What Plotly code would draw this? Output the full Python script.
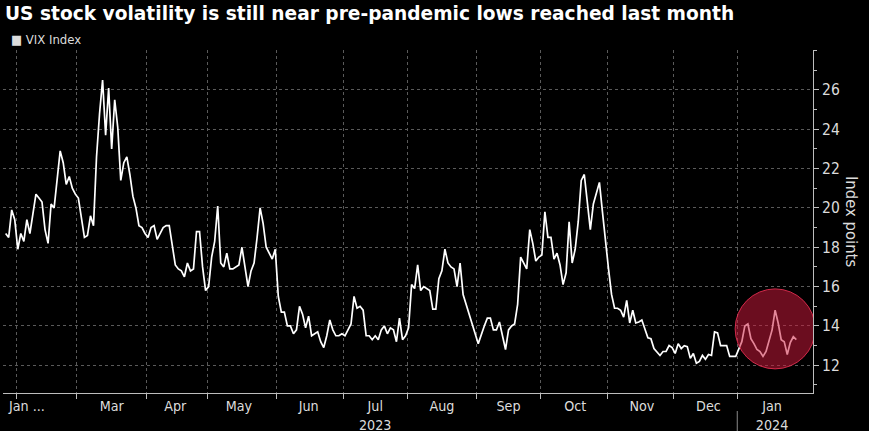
import pandas as pd
import plotly.graph_objects as go

# ---------------- data ----------------
title_text = "US stock volatility is still near pre-pandemic lows reached last month"
series_name = "VIX Index"
y_axis_title = "Index points"

start_date = "2023-01-26"
end_date = "2024-01-26"
market_holidays = ["2023-02-20", "2023-04-07", "2023-05-29", "2023-06-19", "2023-07-04",
                   "2023-09-04", "2023-11-23", "2023-12-25", "2024-01-01", "2024-01-15"]

vix_2023_jan = [18.7, 18.5, 19.9, 19.4]
vix_2023_feb = [17.9, 18.7, 18.3, 19.4, 18.7, 19.6, 20.7, 20.5, 20.3, 18.9, 18.2, 20.2, 20.0,
                22.9, 22.3, 21.2, 21.6, 21.0, 20.7]
vix_2023_mar = [20.5, 19.6, 18.5, 18.6, 19.6, 19.1, 22.6, 24.8, 26.5, 23.7, 26.1, 23.0, 25.5,
                24.1, 21.4, 22.3, 22.6, 21.7, 20.6, 20.0, 19.1, 19.0, 18.7]
vix_2023_apr = [18.5, 19.0, 19.1, 18.4, 19.0, 19.1, 19.1, 18.0, 17.1, 16.9, 16.8, 16.5, 17.2,
                16.8, 16.9, 18.8, 18.8, 17.0, 15.8]
vix_2023_may = [16.0, 17.5, 18.3, 20.1, 17.2, 17.0, 17.7, 16.9, 16.9, 17.0, 17.1, 18.0, 16.9,
                16.0, 16.8, 17.2, 18.5, 20.0, 19.2, 18.0, 17.4, 17.9]
vix_2023_jun = [15.5, 14.7, 14.7, 14.0, 14.0, 13.6, 13.8, 15.0, 14.6, 13.9, 14.5, 13.5, 13.7,
                13.2, 12.9, 13.5, 14.3, 13.8, 13.5, 13.5, 13.6]
vix_2023_jul = [13.5, 14.1, 15.5, 14.9, 15.0, 14.8, 13.5, 13.5, 13.3, 13.5, 13.3, 13.8, 14.0,
                13.6, 13.9, 13.8, 13.2, 14.4, 13.3, 13.5]
vix_2023_aug = [13.9, 16.1, 15.9, 17.1, 15.8, 16.0, 15.9, 15.8, 14.85, 14.85, 16.4, 16.8, 17.9,
                17.2, 17.0, 16.9, 16.0, 17.2, 15.6, 15.1, 14.5, 14.0, 13.55]
vix_2023_sep = [13.1, 14.0, 14.4, 14.4, 13.8, 13.8, 14.2, 13.5, 12.8, 13.8, 14.0, 14.1, 15.1,
                17.5, 17.2, 16.9, 18.9, 18.2, 17.3, 17.5]
vix_2023_oct = [17.6, 19.8, 18.5, 18.5, 17.4, 17.7, 17.1, 16.1, 16.7, 19.3, 17.2, 17.9, 19.3,
                21.4, 21.7, 20.4, 18.9, 20.2, 20.7, 21.3, 19.8, 18.2]
vix_2023_nov = [16.9, 15.6, 14.9, 14.9, 14.8, 14.45, 15.3, 14.15, 14.8, 14.15, 14.2, 14.3, 13.8,
                13.4, 13.35, 12.85, 12.5, 12.7, 12.7, 13.0, 12.9]
vix_2023_dec = [12.6, 13.1, 12.85, 13.0, 12.95, 12.35, 12.6, 12.1, 12.2, 12.5, 12.3, 12.55, 12.5,
                13.7, 13.65, 13.0, 13.0, 12.45, 12.45, 12.45]
vix_2024_jan = [13.2, 14.0, 14.1, 13.35, 13.1, 12.8, 12.7, 12.45, 12.7, 13.8, 14.8, 14.15, 13.3,
                13.2, 12.55, 13.15, 13.45, 13.3]

month_label_dates = ["2023-02-06", "2023-03-16", "2023-04-14", "2023-05-15", "2023-06-15",
                     "2023-07-17", "2023-08-16", "2023-09-15", "2023-10-17", "2023-11-16",
                     "2023-12-18", "2024-01-16"]
month_labels = ["Jan ...", "Mar", "Apr", "May", "Jun", "Jul<br>2023", "Aug", "Sep", "Oct",
                "Nov", "Dec", "Jan<br>2024"]
month_boundaries = ["2023-01-31 12:00", "2023-02-28 12:00", "2023-03-31 12:00",
                    "2023-04-28 12:00", "2023-05-31 12:00", "2023-06-30 12:00",
                    "2023-07-31 12:00", "2023-08-31 12:00", "2023-09-29 12:00",
                    "2023-10-31 12:00", "2023-11-30 12:00", "2023-12-29 12:00"]
year_divider = "2023-12-29 12:00"
y_ticks = [12, 14, 16, 18, 20, 22, 24, 26]
highlight_center = ("2024-01-17", 13.85)

# ---------------- build ----------------
values = (vix_2023_jan + vix_2023_feb + vix_2023_mar + vix_2023_apr + vix_2023_may +
          vix_2023_jun + vix_2023_jul + vix_2023_aug + vix_2023_sep + vix_2023_oct +
          vix_2023_nov + vix_2023_dec + vix_2024_jan)
dates = pd.bdate_range(start_date, end_date)
dates = dates[~dates.isin(pd.to_datetime(market_holidays))]
n = min(len(dates), len(values))
dates = dates[:n]
values = values[:n]

LABEL_FONT = "Liberation Sans Narrow, DejaVu Sans Condensed, Arial Narrow, Liberation Sans, sans-serif"
GRID = "#5a5a5a"
AXIS = "#bdbdbd"
TXT = "#dcdcdc"

# plot-area geometry (pixels)
L, R, T, B = 3, 813, 50, 393
W, H = 869, 431

fig = go.Figure()
fig.add_trace(go.Scatter(
    x=dates, y=values, mode="lines", name=series_name,
    line=dict(color="#ffffff", width=1.7), showlegend=False,
    hoverinfo="x+y",
))

fig.update_layout(
    width=W, height=H, autosize=False,
    paper_bgcolor="#000000", plot_bgcolor="#000000",
    margin=dict(l=L, r=W - R, t=T, b=H - B, autoexpand=False),
    title=dict(text="<b>" + title_text + "</b>", x=5 / W, xanchor="left",
               y=1 - 13 / H, yanchor="middle", xref="container", yref="container",
               font=dict(family="DejaVu Sans, Verdana, sans-serif", size=18.6, color="#ffffff")),
    xaxis=dict(
        type="date", automargin=False,
        range=["2023-01-25 03:00", "2024-02-02 12:00"],
        rangebreaks=[dict(bounds=["sat", "mon"])],
        tickmode="array", tickvals=month_label_dates, ticktext=month_labels,
        ticks="", showgrid=False, zeroline=False,
        showline=True, linecolor=AXIS, linewidth=1,
        tickfont=dict(family=LABEL_FONT, size=14.2, color=TXT),
        minor=dict(tickmode="array", tickvals=month_boundaries, showgrid=True,
                   gridcolor=GRID, griddash="dot", gridwidth=1,
                   ticks="outside", ticklen=5, tickcolor=AXIS),
    ),
    yaxis=dict(
        side="right", automargin=False, range=[10.59, 28.03],
        tickmode="array", tickvals=y_ticks,
        ticks="outside", ticklen=5, tickcolor=AXIS,
        showline=True, linecolor=AXIS, linewidth=1,
        showgrid=True, gridcolor=GRID, griddash="dot", gridwidth=1,
        zeroline=False,
        tickfont=dict(family=LABEL_FONT, size=15.5, color=TXT),
        minor=dict(dtick=1, ticks="outside", ticklen=3, tickcolor=AXIS, showgrid=False),
    ),
)

# highlight circle (pixel-sized, anchored at a data point)
fig.add_shape(
    type="circle", xref="x", yref="y",
    xsizemode="pixel", ysizemode="pixel",
    xanchor=highlight_center[0], yanchor=highlight_center[1],
    x0=-40, x1=40, y0=-40, y1=40,
    fillcolor="rgba(205, 25, 60, 0.52)",
    line=dict(color="rgba(225, 45, 80, 0.9)", width=1),
    layer="above",
)

# year divider in the label area
fig.add_shape(type="line", xref="x", yref="paper",
              x0=year_divider, x1=year_divider, y0=-(411 - B) / (B - T), y1=-(431 - B) / (B - T),
              line=dict(color="#8a8a8a", width=1))

# legend (square marker + series name)
fig.add_annotation(text="<span style='font-size:13px'>■</span> " + series_name,
                   xref="paper", yref="paper", x=(9 - L) / (R - L), y=(B - 40) / (B - T),
                   xanchor="left", yanchor="middle", showarrow=False,
                   font=dict(family=LABEL_FONT, size=13, color=TXT))

# y-axis title (rotated to read top-to-bottom)
fig.add_annotation(text=y_axis_title, xref="paper", yref="paper",
                   x=(852 - L) / (R - L), y=(B - 222) / (B - T),
                   xanchor="center", yanchor="middle", textangle=90, showarrow=False,
                   font=dict(family=LABEL_FONT, size=16.5, color=TXT))

fig.write_html(
    "out.html",
    config={"displayModeBar": False},
    post_script="document.body.style.margin='0';document.body.style.background='#000';",
)
